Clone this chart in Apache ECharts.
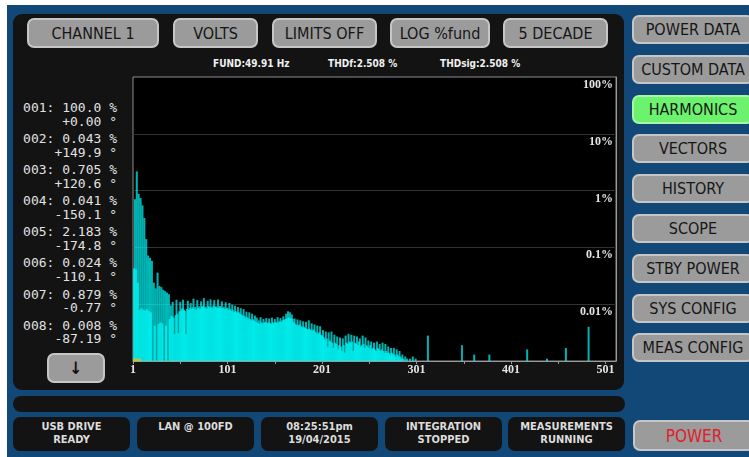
<!DOCTYPE html>
<html><head><meta charset="utf-8">
<script src="https://cdn.jsdelivr.net/npm/echarts@6/dist/echarts.min.js"></script>
<style>
html,body{margin:0;padding:0;width:749px;height:457px;overflow:hidden;background:#fff;}
.abs{position:absolute;}
#frame{position:absolute;left:7px;top:5px;width:742px;height:452px;background:#114877;}
.panel{position:absolute;background:#131313;border-radius:9px;}
.btn{position:absolute;background:#9b9b9b;border:2px solid #c6c6c6;border-radius:7px;box-sizing:border-box;color:#161616;font-family:"DejaVu Sans Condensed","DejaVu Sans",sans-serif;font-size:16px;display:flex;align-items:center;justify-content:center;white-space:nowrap;}
.status{position:absolute;background:#131313;border-radius:7px;color:#dcdcdc;font-family:"DejaVu Sans Condensed","DejaVu Sans",sans-serif;font-weight:bold;font-size:11px;line-height:13px;text-align:center;padding-top:3px;box-sizing:border-box;}
.info{position:absolute;top:58px;color:#f0f0f0;font-family:"DejaVu Sans Condensed","DejaVu Sans",sans-serif;font-weight:bold;font-size:10px;white-space:nowrap;}
#list{position:absolute;left:14px;top:101px;width:103px;font-family:"DejaVu Sans Mono",monospace;font-size:13px;color:#e2e2e2;text-align:right;}
#list .item{line-height:13.7px;margin-bottom:3.7px;white-space:pre;}
#chart{position:absolute;left:0;top:0;width:749px;height:457px;z-index:3;pointer-events:none;}
</style></head>
<body>
<div id="frame"></div>
<div class="panel" style="left:13px;top:14px;width:611px;height:376px;"></div>
<div class="panel" style="left:13px;top:396px;width:612px;height:16px;border-radius:8px;"></div>
<div id="chrome"></div>
<div id="list"></div>
<div id="chart"></div>
<script>
// ---------- data ----------
const topButtons = ['CHANNEL 1', 'VOLTS', 'LIMITS OFF', 'LOG %fund', '5 DECADE'];
const sideButtons = ['POWER DATA', 'CUSTOM DATA', 'HARMONICS', 'VECTORS', 'HISTORY', 'SCOPE', 'STBY POWER', 'SYS CONFIG', 'MEAS CONFIG'];
const activeButton = 'HARMONICS';
const infoTexts = ['FUND:49.91 Hz', 'THDf:2.508 %', 'THDsig:2.508 %'];
const statusLine1 = ['USB DRIVE', 'LAN @ 100FD', '08:25:51pm', 'INTEGRATION', 'MEASUREMENTS'];
const statusLine2 = ['READY', '', '19/04/2015', 'STOPPED', 'RUNNING'];
const listHarmonic = ['001', '002', '003', '004', '005', '006', '007', '008'];
const listMagnitude = ['100.0', '0.043', '0.705', '0.041', '2.183', '0.024', '0.879', '0.008'];
const listPhase = ['+0.00', '+149.9', '+120.6', '-150.1', '-174.8', '-110.1', '-0.77', '-87.19'];

const harmonicCount = 512;
const yTickValues = [100, 10, 1, 0.1, 0.01];
const yTickLabels = ['100%', '10%', '1%', '0.1%', '0.01%'];

// harmonic amplitude, % of fundamental, harmonics 1..300 (fundamental bar not visible in the plot)
const spectrumPct = [
  null, 0.043, 0.705, 0.041, 2.183, 0.024, 0.879, 0.008, 0.74, 0.0085,
  0.55, 0.008, 0.33, 0.0078, 0.14, 0.0082, 0.072, 0.0075, 0.065, 0.0072,
  0.058, null, 0.024, 0.0042, 0.019, null, 0.036, 0.0045, 0.021, 0.0048,
  0.02, 0.0046, 0.018, null, 0.017, 0.0042, 0.016, null, 0.015, 0.0055,
  0.0095, 0.0062, 0.011, 0.0058, 0.003, 0.0064, 0.012, 0.0068, 0.0031, 0.0075,
  0.011, 0.0078, 0.0085, 0.012, 0.008, 0.0076, 0.003, 0.0082, 0.0115, 0.0079,
  0.0086, 0.0105, 0.0082, 0.0088, 0.0125, 0.0084, 0.009, 0.0079, 0.0118, 0.0086,
  0.0092, 0.0083, 0.0112, 0.0088, 0.0094, 0.0128, 0.0086, 0.0091, 0.0084, 0.0115,
  0.0093, 0.0087, 0.0122, 0.009, 0.0085, 0.0095, 0.0118, 0.0089, 0.0092, 0.0086,
  0.0121, 0.0088, 0.0093, 0.0087, 0.0112, 0.0085, 0.009, 0.0083, 0.0108, 0.0084,
  0.0087, 0.0079, 0.0105, 0.0082, 0.0076, 0.0098, 0.0078, 0.0073, 0.0094, 0.0075,
  0.0071, 0.0089, 0.0072, 0.0068, 0.0085, 0.0066, 0.0063, 0.0082, 0.0062, 0.0058,
  0.0074, 0.0059, 0.0056, 0.0072, 0.0055, 0.0052, 0.0068, 0.0054, 0.0051, 0.0063,
  0.0049, 0.0058, 0.0047, 0.0052, 0.0045, 0.0059, 0.0048, 0.0046, 0.0055, 0.0047,
  0.0049, 0.0057, 0.0046, 0.0048, 0.0056, 0.0047, 0.0045, 0.0058, 0.0048, 0.0046,
  0.0055, 0.0049, 0.0047, 0.0059, 0.0048, 0.005, 0.0057, 0.0049, 0.0052, 0.0061,
  0.0053, 0.0055, 0.0068, 0.0056, 0.0075, 0.0058, 0.0072, 0.0057, 0.0066, 0.0055,
  0.0048, 0.0056, 0.0045, 0.0043, 0.0054, 0.0042, 0.0044, 0.0052, 0.0041, 0.0039,
  0.005, 0.004, 0.0038, 0.0049, 0.0037, 0.0036, 0.0052, 0.0037, 0.0035, 0.0046,
  0.0034, 0.0036, 0.0044, 0.0033, 0.0031, 0.0042, 0.003, 0.0032, 0.0041, 0.0029,
  0.0028, 0.0035, 0.0026, 0.0024, 0.0033, 0.0025, 0.0018, 0.0032, 0.0023, 0.0022,
  0.0033, 0.0021, 0.0017, 0.0029, 0.0021, 0.002, 0.0027, 0.0016, 0.0019, 0.0026,
  0.0018, 0.0015, 0.0025, 0.0019, 0.0014, 0.0028, 0.0021, 0.002, 0.003, 0.0022,
  0.0021, 0.0029, 0.0022, 0.0015, 0.0028, 0.0021, 0.002, 0.0027, 0.0019, 0.0022,
  0.0025, 0.0018, 0.0019, 0.0028, 0.002, 0.0017, 0.0026, 0.0019, 0.0018, 0.0023,
  0.0017, 0.0019, 0.0022, 0.0016, 0.0017, 0.0021, 0.0016, 0.0015, 0.0022, 0.0017,
  0.0016, 0.002, 0.0015, 0.0016, 0.0021, 0.0015, 0.0014, 0.002, 0.0015, 0.0014,
  0.0018, 0.0014, 0.0013, 0.0017, 0.0014, 0.0013, 0.0017, 0.0013, 0.0012, 0.0016,
  0.0013, 0.0012, 0.0015, 0.0012, 0.0011, 0.0013, 0.0011, null, 0.0012, null,
  0.0011, null, null, 0.0011, null, null, 0.0012, null, null, 0.0011
];
// isolated high-order harmonics above 300: [harmonic, %]
const highSpikes = [[313, 0.0028], [349, 0.0019], [362, 0.0013], [378, 0.0013], [418, 0.0016], [439, 0.0011], [459, 0.0017], [483, 0.004]];
const cursorHarmonic = 1;

// ---------- chrome ----------
const chrome = document.getElementById('chrome');
function addBtn(text, l, t, w, h, extra) {
  const d = document.createElement('div');
  d.className = 'btn';
  d.style.cssText = `left:${l}px;top:${t}px;width:${w}px;height:${h}px;` + (extra || '');
  d.textContent = text;
  chrome.appendChild(d);
}
const topLeft = [27, 173, 272, 390, 503], topWidth = [132, 85, 105, 100, 105];
topButtons.forEach((t, i) => addBtn(t, topLeft[i], 18, topWidth[i], 30));
sideButtons.forEach((t, i) => addBtn(t, 632, 15 + i * 39.8, 122, 29,
  t === activeButton ? 'background:#6cf26c;border-color:#a6f7a6;' : ''));
addBtn('POWER', 633, 420, 122, 31, 'color:#e0202a;font-size:17px;');
addBtn('\u2193', 47, 353, 58, 30, 'font-size:17px;font-weight:bold;color:#111;');
const infoLeft = [213, 328, 440];
infoTexts.forEach((t, i) => {
  const d = document.createElement('div');
  d.className = 'info'; d.style.left = infoLeft[i] + 'px'; d.textContent = t;
  chrome.appendChild(d);
});
const statusLeft = [13, 137, 261, 385, 508];
statusLine1.forEach((t, i) => {
  const d = document.createElement('div');
  d.className = 'status';
  d.style.cssText = `left:${statusLeft[i]}px;top:417px;width:117px;height:34px;`;
  d.innerHTML = t + '<br>' + statusLine2[i];
  chrome.appendChild(d);
});
const list = document.getElementById('list');
listHarmonic.forEach((h, i) => {
  const d = document.createElement('div');
  d.className = 'item';
  d.textContent = `${h}: ${listMagnitude[i]} %\n${listPhase[i]} \u00b0`;
  list.appendChild(d);
});

// ---------- chart ----------
const harmonicLabels = [];
const barData = [];
for (let h = 1; h <= harmonicCount; h++) {
  harmonicLabels.push(String(h));
  barData.push(h <= spectrumPct.length ? spectrumPct[h - 1] : null);
}
highSpikes.forEach(([h, v]) => { barData[h - 1] = v; });

const chart = echarts.init(document.getElementById('chart'), null, { renderer: 'canvas' });
chart.setOption({
  animation: false,
  backgroundColor: 'transparent',
  grid: { left: 133, top: 77, width: 483, height: 284, show: true, backgroundColor: '#000', borderColor: '#8c8c8c', borderWidth: 1 },
  xAxis: {
    type: 'category', data: harmonicLabels, boundaryGap: false,
    axisLine: { show: true, lineStyle: { color: '#9a9a9a' } },
    axisTick: { show: true, interval: 49, length: 3, lineStyle: { color: '#9a9a9a' } },
    axisLabel: { interval: 99, color: '#e4e4e4', fontFamily: 'Liberation Serif', fontWeight: 'bold', fontSize: 12, margin: 3 },
    splitLine: { show: false }
  },
  yAxis: {
    type: 'log', logBase: 10, min: 0.001, max: 100, startValue: 0.001, position: 'right',
    axisLine: { show: true, lineStyle: { color: '#9a9a9a' } },
    axisTick: { show: false },
    axisLabel: {
      inside: true, verticalAlign: 'top', margin: 3, padding: [2, 0, 0, 0],
      color: '#e4e4e4', fontFamily: 'Liberation Serif', fontWeight: 'bold', fontSize: 12,
      formatter: v => {
        const i = yTickValues.findIndex(t => Math.abs(Math.log10(t) - Math.log10(v)) < 0.01);
        return i >= 0 ? yTickLabels[i] : '';
      }
    },
    splitLine: { show: true, showMinLine: false, showMaxLine: false, lineStyle: { color: '#333' } }
  },
  series: [
    { type: 'bar', data: barData, barWidth: 2, itemStyle: { color: '#00ffff', opacity: 0.7 } },
    { type: 'scatter', data: [[cursorHarmonic - 1, 0.001]], symbol: 'rect', symbolSize: [8, 3], symbolOffset: [4, -1],
      itemStyle: { color: '#d8c020' }, clip: false, z: 5 }
  ]
});
</script>
</body></html>
